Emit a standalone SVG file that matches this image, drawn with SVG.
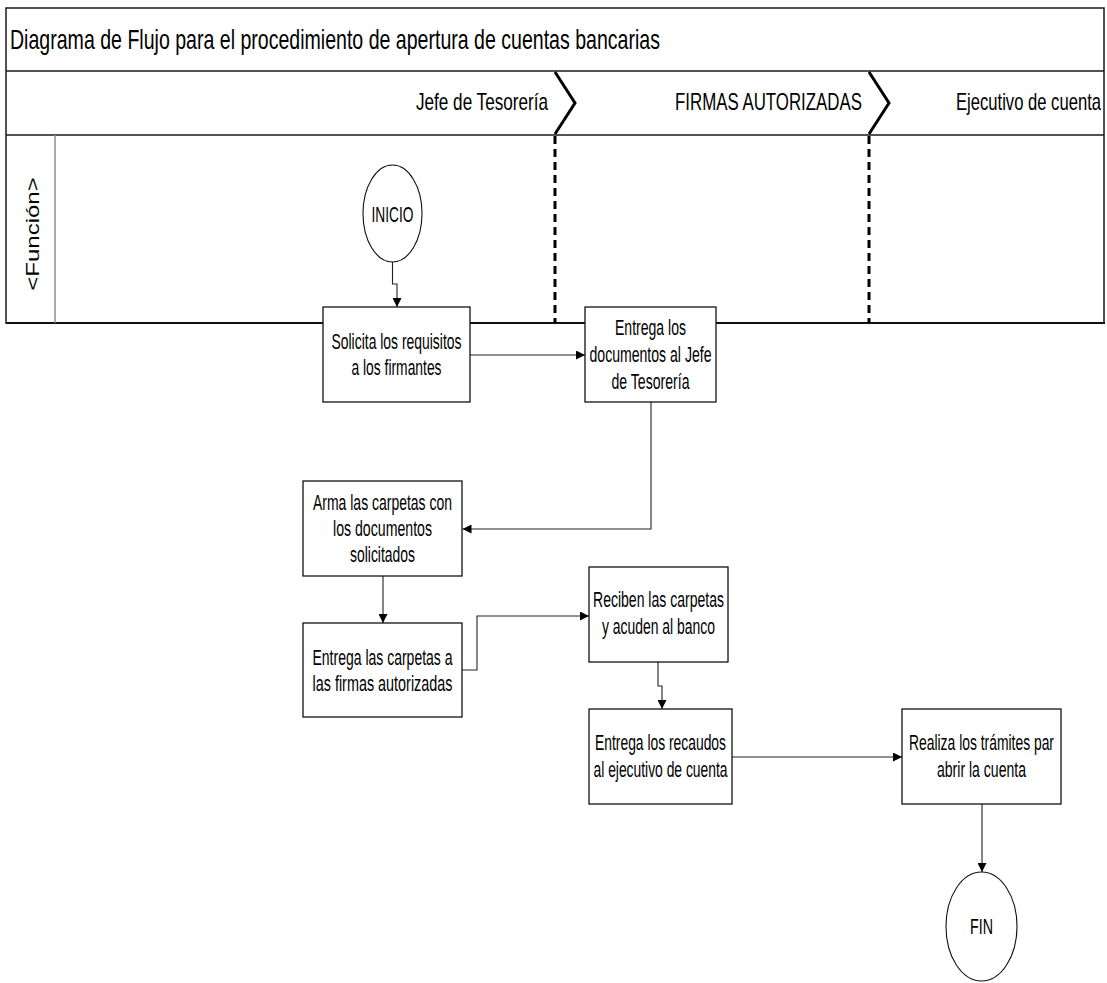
<svg xmlns="http://www.w3.org/2000/svg" width="1107" height="983" viewBox="0 0 1107 983">
<style>
  .frame { fill: none; stroke: #1a1a1a; stroke-width: 1.5; }
  .thin { stroke: #1a1a1a; stroke-width: 1.5; fill: none; }
  .col { stroke: #8c8c8c; stroke-width: 1.5; fill: none; }
  .chev { fill: none; stroke: #000; stroke-width: 3; stroke-linejoin: miter; }
  .dash { fill: none; stroke: #000; stroke-width: 3; stroke-dasharray: 8 5; }
  .box { fill: #fff; stroke: #111; stroke-width: 1.3; }
  .term { fill: #fff; stroke: #111; stroke-width: 1.1; }
  .t { font-family: "Liberation Sans", Arial, sans-serif; fill: #000; }
  .title { font-size: 28px; }
  .hdr { font-size: 24px; }
  .bx { font-size: 22px; text-anchor: middle; }
  .conn path { fill: none; stroke: #222; stroke-width: 1.1; }
</style>
<defs>
  <marker id="arr" viewBox="0 0 10 10" refX="10" refY="5" markerWidth="9" markerHeight="9" markerUnits="userSpaceOnUse" orient="auto">
    <path d="M0,0 L10,5 L0,10 z" fill="#000"/>
  </marker>
</defs>
<rect width="1107" height="983" fill="#fff"/>

<g id="pool">
  <rect class="frame" x="6" y="8" width="1098" height="315"/>
  <line class="thin" x1="6" y1="71" x2="1104" y2="71"/>
  <line class="thin" x1="6" y1="135" x2="1104" y2="135"/>
  <line x1="6" y1="323" x2="1105" y2="323" stroke="#111" stroke-width="2.2"/>
  <line class="col" x1="55" y1="135" x2="55" y2="323"/>
  <text class="t title" x="10" y="49" textLength="650" lengthAdjust="spacingAndGlyphs">Diagrama de Flujo para el procedimiento de apertura de cuentas bancarias</text>
  <text class="t hdr" x="416" y="110" textLength="132" lengthAdjust="spacingAndGlyphs">Jefe de Tesorería</text>
  <text class="t hdr" x="675" y="110" textLength="187" lengthAdjust="spacingAndGlyphs">FIRMAS AUTORIZADAS</text>
  <text class="t hdr" x="956" y="110" textLength="145" lengthAdjust="spacingAndGlyphs">Ejecutivo de cuenta</text>
  <polyline class="chev" points="555,72 575,103 555,134"/>
  <polyline class="chev" points="869,72 889,103 869,134"/>
  <line class="dash" x1="555" y1="136" x2="555" y2="323"/>
  <line class="dash" x1="869" y1="136" x2="869" y2="323"/>
  <text class="t" font-size="24" text-anchor="middle" transform="translate(39,234) scale(0.74,1) rotate(-90)">&lt;Función&gt;</text>
</g>

<g class="conn" id="connectors">
  <path d="M392.5,262 V284 H397 V307" marker-end="url(#arr)" stroke="#777"/>
  <path d="M470,355 H585" marker-end="url(#arr)"/>
  <path d="M651,402 V529 H462.5" marker-end="url(#arr)"/>
  <path d="M383,576 V623" marker-end="url(#arr)"/>
  <path d="M462,670 H477 V616 H589" marker-end="url(#arr)"/>
  <path d="M658,662 V686 H662 V709" marker-end="url(#arr)"/>
  <path d="M732,757 H902" marker-end="url(#arr)"/>
  <path d="M982,804 V872" marker-end="url(#arr)"/>
</g>

<g id="inicio">
  <ellipse class="term" cx="392.5" cy="213.5" rx="29.5" ry="48.5"/>
  <text class="t bx" x="392.5" y="222" font-size="21" textLength="42" lengthAdjust="spacingAndGlyphs">INICIO</text>
</g>

<g id="solicita">
  <rect class="box" x="323" y="307" width="147" height="95"/>
  <text class="t bx" x="396.5" y="349" textLength="130" lengthAdjust="spacingAndGlyphs">Solicita los requisitos</text>
  <text class="t bx" x="396.5" y="375" textLength="90" lengthAdjust="spacingAndGlyphs">a los firmantes</text>
</g>

<g id="entrega-docs">
  <rect class="box" x="585" y="307" width="131" height="95"/>
  <text class="t bx" x="650.5" y="335" textLength="71" lengthAdjust="spacingAndGlyphs">Entrega los</text>
  <text class="t bx" x="650.5" y="362" textLength="122" lengthAdjust="spacingAndGlyphs">documentos al Jefe</text>
  <text class="t bx" x="650.5" y="389" textLength="78" lengthAdjust="spacingAndGlyphs">de Tesorería</text>
</g>

<g id="arma">
  <rect class="box" x="303" y="481" width="159" height="95"/>
  <text class="t bx" x="382.5" y="510" textLength="139" lengthAdjust="spacingAndGlyphs">Arma las carpetas con</text>
  <text class="t bx" x="382.5" y="536" textLength="99" lengthAdjust="spacingAndGlyphs">los documentos</text>
  <text class="t bx" x="382.5" y="562" textLength="65" lengthAdjust="spacingAndGlyphs">solicitados</text>
</g>

<g id="entrega-carpetas">
  <rect class="box" x="303" y="623" width="159" height="94"/>
  <text class="t bx" x="382.5" y="665" textLength="140" lengthAdjust="spacingAndGlyphs">Entrega las carpetas a</text>
  <text class="t bx" x="382.5" y="691" textLength="140" lengthAdjust="spacingAndGlyphs">las firmas autorizadas</text>
</g>

<g id="reciben">
  <rect class="box" x="589" y="567" width="139" height="95"/>
  <text class="t bx" x="658.5" y="607" textLength="131" lengthAdjust="spacingAndGlyphs">Reciben las carpetas</text>
  <text class="t bx" x="658.5" y="634" textLength="113" lengthAdjust="spacingAndGlyphs">y acuden al banco</text>
</g>

<g id="recaudos">
  <rect class="box" x="589" y="709" width="143" height="95"/>
  <text class="t bx" x="660.5" y="750" textLength="131" lengthAdjust="spacingAndGlyphs">Entrega los recaudos</text>
  <text class="t bx" x="660.5" y="777" textLength="134" lengthAdjust="spacingAndGlyphs">al ejecutivo de cuenta</text>
</g>

<g id="realiza">
  <rect class="box" x="902" y="709" width="159" height="95"/>
  <text class="t bx" x="981.5" y="750" textLength="145" lengthAdjust="spacingAndGlyphs">Realiza los trámites par</text>
  <text class="t bx" x="981.5" y="777" textLength="89" lengthAdjust="spacingAndGlyphs">abrir la cuenta</text>
</g>

<g id="fin">
  <ellipse class="term" cx="981.5" cy="926.5" rx="35.5" ry="54.5"/>
  <text class="t bx" x="981.5" y="934" font-size="21" textLength="23" lengthAdjust="spacingAndGlyphs">FIN</text>
</g>
</svg>
